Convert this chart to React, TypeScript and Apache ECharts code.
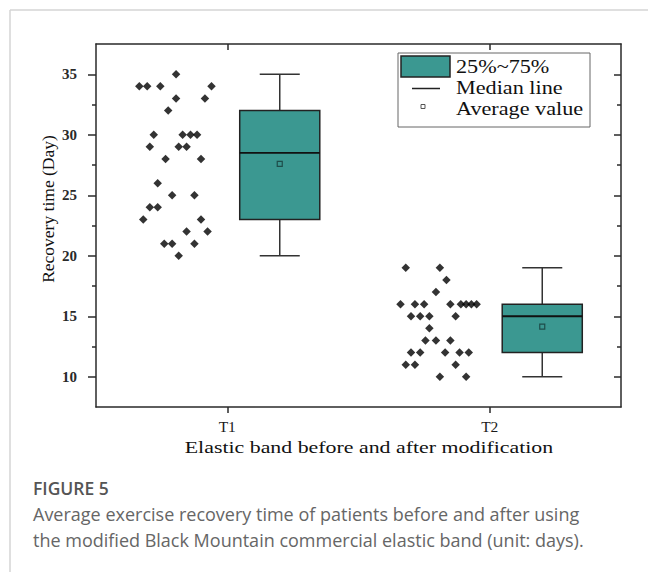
import React, { useEffect, useRef } from 'react';
import * as echarts from 'echarts';

const categories = ['T1', 'T2'];
const yMajorTicks = [10, 15, 20, 25, 30, 35];
const yMinorTicks = [12.5, 17.5, 22.5, 27.5, 32.5];

// individual patients: [jittered horizontal position, recovery time in days]
const t1Points: [number, number][] = [
  [0.61, 35],
  [0.33, 34], [0.39, 34], [0.49, 34], [0.88, 34],
  [0.61, 33], [0.83, 33],
  [0.55, 32],
  [0.44, 30], [0.66, 30], [0.72, 30], [0.77, 30],
  [0.41, 29], [0.63, 29], [0.69, 29],
  [0.53, 28], [0.80, 28],
  [0.47, 26],
  [0.58, 25], [0.75, 25],
  [0.41, 24], [0.47, 24],
  [0.36, 23], [0.80, 23],
  [0.69, 22], [0.85, 22],
  [0.52, 21], [0.58, 21], [0.75, 21],
  [0.63, 20],
];
const t2Points: [number, number][] = [
  [2.36, 19], [2.62, 19],
  [2.67, 18],
  [2.59, 17],
  [2.32, 16], [2.43, 16], [2.50, 16], [2.70, 16], [2.78, 16], [2.82, 16], [2.86, 16], [2.90, 16],
  [2.40, 15], [2.47, 15], [2.54, 15], [2.74, 15],
  [2.54, 14],
  [2.51, 13], [2.59, 13], [2.70, 13],
  [2.40, 12], [2.47, 12], [2.66, 12], [2.77, 12], [2.84, 12],
  [2.36, 11], [2.43, 11], [2.74, 11],
  [2.62, 10], [2.82, 10],
];

// box statistics per group
const boxCenters = [1.4, 3.4];
const boxMin = [20, 10];
const boxQ1 = [23, 12];
const boxMedian = [28.5, 15];
const boxQ3 = [32, 16];
const boxMax = [35, 19];
const boxMean = [27.6, 14.15];

const legendLabels = ['25%~75%', 'Median line', 'Average value'];
const xTitle = 'Elastic band before and after modification';
const yTitle = 'Recovery time (Day)';
const figureLabel = 'FIGURE 5';
const captionLines = [
  'Average exercise recovery time of patients before and after using',
  'the modified Black Mountain commercial elastic band (unit: days).',
];

const SERIF = '"Liberation Serif", "Times New Roman", serif';
const SANS = '"Open Sans", "Noto Sans", sans-serif';
const TEAL = '#3b9891';
const AXIS = '#2a2a2a';

export default function App() {
  const ref = useRef<HTMLDivElement>(null);

  useEffect(() => {
    if (!ref.current) return;
    const chart = echarts.init(ref.current, null, { renderer: 'svg' });

    const boxData = boxCenters.map((c, i) => [c, boxMin[i], boxQ1[i], boxMedian[i], boxQ3[i], boxMax[i], boxMean[i]]);

    const axisLine = { show: true, lineStyle: { color: AXIS, width: 1.5 } };
    const yBase = { type: 'value', min: 7.5, max: 37.5, interval: 2.5, splitLine: { show: false } };

    const option: any = {
      animation: false,
      backgroundColor: '#ffffff',
      grid: { left: 96, top: 44, width: 525, height: 363, containLabel: false },
      xAxis: [
        {
          type: 'category', data: categories, position: 'bottom', boundaryGap: true,
          axisLine,
          axisTick: { show: true, alignWithLabel: true, length: 6, lineStyle: { color: AXIS, width: 1.5 } },
          axisLabel: { fontFamily: SERIF, fontSize: 15.5, color: '#1a1a1a', margin: 11 },
          splitLine: { show: false },
        },
        { type: 'value', min: 0, max: 4, show: false },
        {
          type: 'category', data: categories, position: 'top', boundaryGap: true,
          axisLine,
          axisTick: { show: true, inside: true, alignWithLabel: true, length: 6, lineStyle: { color: AXIS, width: 1.5 } },
          axisLabel: { show: false },
          splitLine: { show: false },
        },
      ],
      yAxis: [
        {
          ...yBase, position: 'left',
          axisLine,
          axisTick: { show: true, customValues: yMajorTicks, length: 8, lineStyle: { color: AXIS, width: 1.5 } },
          axisLabel: { customValues: yMajorTicks, fontFamily: SERIF, fontSize: 15, fontWeight: 'bold', color: '#2a2a2a', margin: 19 },
        },
        {
          ...yBase, position: 'left',
          axisLine: { show: false },
          axisTick: { show: true, customValues: yMinorTicks, length: 4, lineStyle: { color: AXIS, width: 1.5 } },
          axisLabel: { show: false },
        },
        {
          ...yBase, position: 'right',
          axisLine,
          axisTick: { show: true, inside: true, customValues: yMajorTicks, length: 7, lineStyle: { color: AXIS, width: 1.5 } },
          axisLabel: { show: false },
        },
        {
          ...yBase, position: 'right',
          axisLine: { show: false },
          axisTick: { show: true, inside: true, customValues: yMinorTicks, length: 4, lineStyle: { color: AXIS, width: 1.5 } },
          axisLabel: { show: false },
        },
      ],
      series: [
        {
          type: 'scatter', xAxisIndex: 1, yAxisIndex: 0, data: t1Points,
          symbol: 'diamond', symbolSize: 8.5, itemStyle: { color: '#000' },
        },
        {
          type: 'scatter', xAxisIndex: 1, yAxisIndex: 0, data: t2Points,
          symbol: 'diamond', symbolSize: 8.5, itemStyle: { color: '#000' },
        },
        {
          type: 'custom', xAxisIndex: 1, yAxisIndex: 0, data: boxData,
          encode: { x: 0, y: [1, 5] },
          renderItem: (_params: any, api: any) => {
            const x = api.value(0);
            const p = (v: number) => api.coord([x, v]);
            const [cx, yMin] = p(api.value(1));
            const yQ1 = p(api.value(2))[1];
            const yMed = p(api.value(3))[1];
            const yQ3 = p(api.value(4))[1];
            const yMax = p(api.value(5))[1];
            const yMean = p(api.value(6))[1];
            const bw = api.size([0.61, 0])[0];
            const cw = bw / 2;
            const ws = { stroke: '#333', lineWidth: 1.5 };
            return {
              type: 'group',
              children: [
                { type: 'line', shape: { x1: cx, y1: yMin, x2: cx, y2: yQ1 }, style: ws },
                { type: 'line', shape: { x1: cx, y1: yQ3, x2: cx, y2: yMax }, style: ws },
                { type: 'line', shape: { x1: cx - cw / 2, y1: yMin, x2: cx + cw / 2, y2: yMin }, style: ws },
                { type: 'line', shape: { x1: cx - cw / 2, y1: yMax, x2: cx + cw / 2, y2: yMax }, style: ws },
                { type: 'rect', shape: { x: cx - bw / 2, y: yQ3, width: bw, height: yQ1 - yQ3 }, style: { fill: TEAL, stroke: '#222', lineWidth: 1.5 } },
                { type: 'line', shape: { x1: cx - bw / 2, y1: yMed, x2: cx + bw / 2, y2: yMed }, style: { stroke: '#111', lineWidth: 1.8 } },
                { type: 'rect', shape: { x: cx - 2.5, y: yMean - 2.5, width: 5, height: 5 }, style: { fill: TEAL, stroke: '#1e4d4a', lineWidth: 1.2 } },
              ],
            };
          },
        },
      ],
      graphic: [
        { type: 'line', shape: { x1: 10, y1: 10, x2: 648, y2: 10 }, style: { stroke: '#d4d4d4', lineWidth: 1.5 } },
        { type: 'line', shape: { x1: 10, y1: 10, x2: 10, y2: 572 }, style: { stroke: '#d4d4d4', lineWidth: 1.5 } },
        // y-axis title
        {
          type: 'text', x: 48, y: 209, rotation: Math.PI / 2,
          style: { text: yTitle, fontFamily: SERIF, fontSize: 17.5, fill: '#111', align: 'center', verticalAlign: 'middle', textAlign: 'center', textVerticalAlign: 'middle' },
        },
        // legend
        { type: 'rect', z: 100, shape: { x: 398, y: 53, width: 192, height: 74 }, style: { fill: '#fff', stroke: '#666', lineWidth: 1 } },
        { type: 'rect', z: 101, shape: { x: 401, y: 56, width: 49, height: 21 }, style: { fill: TEAL, stroke: '#222', lineWidth: 1.5 } },
        { type: 'line', z: 101, shape: { x1: 412, y1: 88.5, x2: 440, y2: 88.5 }, style: { stroke: '#222', lineWidth: 1.5 } },
        { type: 'rect', z: 101, shape: { x: 421, y: 104.5, width: 4, height: 4 }, style: { fill: '#fff', stroke: '#555', lineWidth: 1 } },
        ...legendLabels.map((t, i) => ({
          type: 'text', z: 101, x: 456, y: 66.5 + i * 21, scaleX: 1.2,
          style: { text: t, fontFamily: SERIF, fontSize: 18.5, fill: '#111', align: 'left', verticalAlign: 'middle', textAlign: 'left', textVerticalAlign: 'middle' },
        })),
        // x-axis title
        {
          type: 'text', x: 369, y: 447, scaleX: 1.25,
          style: { text: xTitle, fontFamily: SERIF, fontSize: 17.5, fill: '#111', align: 'center', verticalAlign: 'middle', textAlign: 'center', textVerticalAlign: 'middle' },
        },
        // caption
        {
          type: 'text', x: 33, y: 488,
          style: { text: figureLabel, fontFamily: SANS, fontSize: 17.5, fontWeight: 600, fill: '#555', align: 'left', verticalAlign: 'middle', textAlign: 'left', textVerticalAlign: 'middle' },
        },
        ...captionLines.map((t, i) => ({
          type: 'text', x: 33, y: 514 + i * 26,
          style: { text: t, fontFamily: SANS, fontSize: 18, fontWeight: 'normal', fill: '#666', align: 'left', verticalAlign: 'middle', textAlign: 'left', textVerticalAlign: 'middle' },
        })),
      ],
    };

    chart.setOption(option);
    return () => chart.dispose();
  }, []);

  return <div ref={ref} style={{ position: 'absolute', left: 0, top: 0, width: 648, height: 572, background: '#fff' }} />;
}
